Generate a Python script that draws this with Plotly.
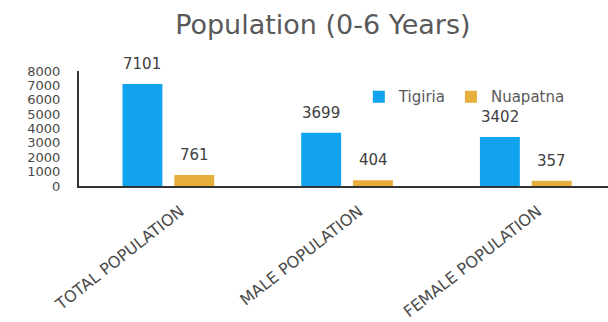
import plotly.graph_objects as go

categories = ["TOTAL POPULATION", "MALE POPULATION", "FEMALE POPULATION"]
tigiria = [7101, 3699, 3402]
nuapatna = [761, 404, 357]
series_names = ["Tigiria", "Nuapatna"]
colors = ["#12a3ee", "#e8ae3c"]

fig = go.Figure()
for name, vals, col in zip(series_names, [tigiria, nuapatna], colors):
    fig.add_trace(go.Bar(x=categories, y=vals, name=name, marker_color=col,
                         marker_line_width=0))

annotations = []
for vals, shift in [(tigiria, -26), (nuapatna, 26)]:
    for c, v in zip(categories, vals):
        annotations.append(dict(x=c, y=v, xref="x", yref="y", text=str(v),
                                showarrow=False, xshift=shift, yshift=20,
                                font=dict(family="DejaVu Sans", size=15, color="#404040")))

fig.update_layout(
    width=608, height=322,
    margin=dict(l=79, r=0, t=71, b=136),
    paper_bgcolor="white", plot_bgcolor="white",
    barmode="group", bargap=0.42, bargroupgap=0.23,
    title=dict(text="Population (0-6 Years)", x=0.531, xanchor="center",
               y=0.925, yanchor="middle",
               font=dict(family="DejaVu Sans", size=27, color="#595959")),
    legend=dict(orientation="h", x=0.529, y=0.775, xanchor="left", yanchor="middle",
                font=dict(family="DejaVu Sans", size=15, color="#595959"),
                bgcolor="rgba(0,0,0,0)", itemwidth=30, traceorder="normal",
                tracegroupgap=0),
    annotations=annotations,
    xaxis=dict(range=[-0.5, 2.46], showline=True, linecolor="#333333", linewidth=2,
               tickangle=-38, showgrid=False, ticks="", ticklabelshift=12,
               ticklabelstandoff=8,
               tickfont=dict(family="DejaVu Sans", size=16, color="#4a4a4a")),
    yaxis=dict(range=[0, 8000], dtick=1000, showline=True, linecolor="#333333", linewidth=2,
               showgrid=False, zeroline=False, ticks="", ticklabelstandoff=14,
               tickfont=dict(family="DejaVu Sans", size=13, color="#4a4a4a")),
)

fig.write_html("out.html")
